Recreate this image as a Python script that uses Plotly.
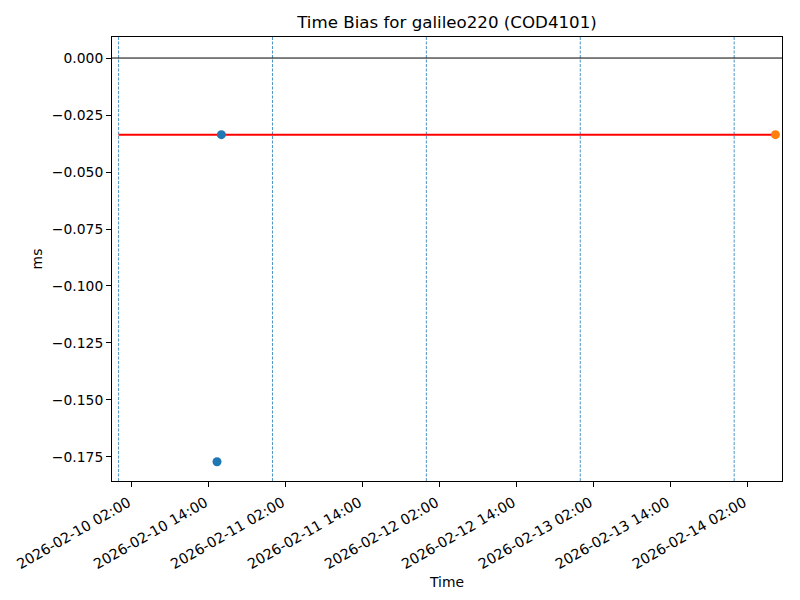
import plotly.graph_objects as go

# Data
blue_times = ["2026-02-10 16:02", "2026-02-10 15:21"]
blue_values = [-0.0336, -0.1771]
orange_times = ["2026-02-14 06:26"]
orange_values = [-0.0336]
mean_line_times = ["2026-02-10 00:00", "2026-02-14 06:26"]
mean_line_values = [-0.0336, -0.0336]
day_boundaries = ["2026-02-10 00:00", "2026-02-11 00:00", "2026-02-12 00:00",
                  "2026-02-13 00:00", "2026-02-14 00:00"]
x_range = ["2026-02-09 22:58:30", "2026-02-14 07:27:30"]
y_range = [-0.18555, 0.00923]
y_tick_values = [0.0, -0.025, -0.05, -0.075, -0.1, -0.125, -0.15, -0.175]
y_tick_labels = ["0.000", "\u22120.025", "\u22120.050", "\u22120.075",
                 "\u22120.100", "\u22120.125", "\u22120.150", "\u22120.175"]

font = dict(family="DejaVu Sans", size=13.89, color="black")

fig = go.Figure()

for d in day_boundaries:
    fig.add_shape(type="line", xref="x", yref="paper", x0=d, x1=d, y0=0, y1=1,
                  line=dict(color="#1f77b4", width=0.8, dash="3px,1.5px"), layer="below")

fig.add_shape(type="line", xref="paper", yref="y", x0=0, x1=1, y0=0, y1=0,
              line=dict(color="black", width=1), layer="below")

fig.add_trace(go.Scatter(x=mean_line_times, y=mean_line_values, mode="lines",
                         line=dict(color="red", width=2), showlegend=False))
fig.add_trace(go.Scatter(x=blue_times, y=blue_values, mode="markers",
                         marker=dict(color="#1f77b4", size=9), showlegend=False))
fig.add_trace(go.Scatter(x=orange_times, y=orange_values, mode="markers",
                         marker=dict(color="#ff7f0e", size=9), showlegend=False))

fig.update_layout(
    width=800, height=600,
    margin=dict(l=112, r=18, t=37, b=119),
    paper_bgcolor="white", plot_bgcolor="white",
    font=font,
    title=dict(text="Time Bias for galileo220 (COD4101)", x=447/800, xanchor="center",
               y=1 - 22/600, yanchor="middle", font=dict(family="DejaVu Sans", size=16.67, color="black")),
)

fig.update_xaxes(
    type="date", range=x_range,
    tick0="2026-02-10 02:00", dtick=43200000, tickformat="%Y-%m-%d %H:%M",
    tickangle=-30, ticks="outside", ticklen=5, tickwidth=1, tickcolor="black",
    tickfont=dict(family="DejaVu Sans", size=14.3, color="black"),
    ticklabelshift=-3, ticklabelstandoff=2,
    showline=True, linecolor="black", linewidth=1, mirror=True,
    showgrid=False, zeroline=False,
    title=dict(text="Time", standoff=6, font=font),
    automargin=False,
)
fig.update_yaxes(
    range=y_range, tickmode="array", tickvals=y_tick_values, ticktext=y_tick_labels,
    ticks="outside", ticklen=5, tickwidth=1, tickcolor="black",
    showline=True, linecolor="black", linewidth=1, mirror=True,
    showgrid=False, zeroline=False,
    title=dict(text="ms", standoff=6, font=font),
    automargin=False,
)

fig.write_html("out.html", post_script="document.body.style.margin='0';",
               config={"displayModeBar": False})
